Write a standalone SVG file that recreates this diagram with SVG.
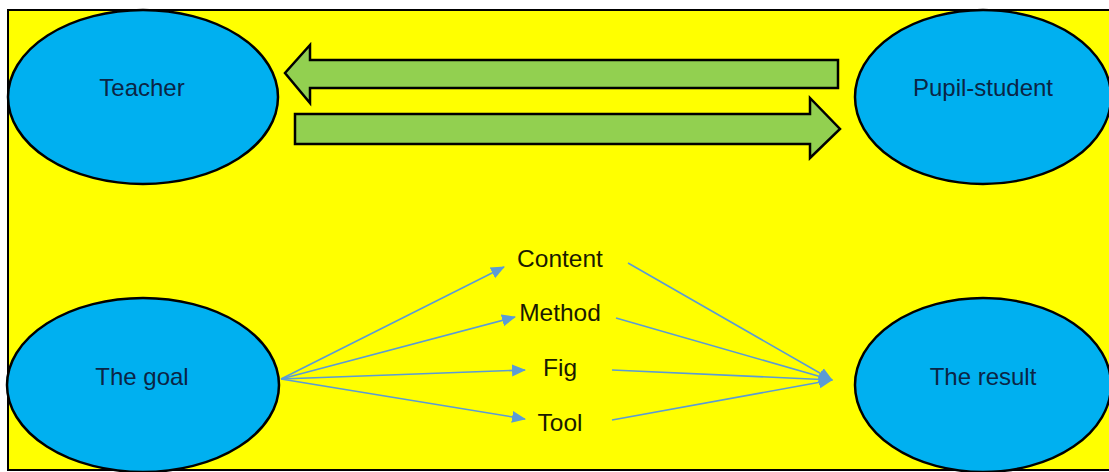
<svg xmlns="http://www.w3.org/2000/svg" width="1109" height="472" viewBox="0 0 1109 472">
<style>
.node{fill:#00B0F0;stroke:#000;stroke-width:2.5}
.lbl{font-family:"Liberation Sans",Arial,sans-serif;font-size:24px;fill:#0b2545;text-anchor:middle}
.mid{font-family:"Liberation Sans",Arial,sans-serif;font-size:24.5px;fill:#1a1a00;text-anchor:middle}
.big{fill:#92D050;stroke:#000;stroke-width:2.5;stroke-linejoin:miter}
.con{stroke:#5B9BD5;stroke-width:1.6;fill:none;marker-end:url(#ah)}
</style>
<defs>
<marker id="ah" markerUnits="userSpaceOnUse" markerWidth="14" markerHeight="14" viewBox="0 0 14 14" refX="13" refY="7" orient="auto">
<path d="M0,1 L14,7 L0,13 Z" fill="#5B9BD5"/>
</marker>
</defs>
<rect x="0" y="0" width="1109" height="472" fill="#fff"/>
<rect x="8" y="10" width="1110" height="460" fill="#FFFF00" stroke="#000" stroke-width="2"/>
<g id="big-arrows">
<path class="big" d="M838,60 L310,60 L310,45 L285,73 L310,103 L310,88 L838,88 Z"/>
<path class="big" d="M295,114 L810,114 L810,98 L840,129 L810,158 L810,144 L295,144 Z"/>
</g>
<g id="connectors">
<line class="con" x1="281" y1="379" x2="504" y2="267"/>
<line class="con" x1="281" y1="379" x2="515" y2="317"/>
<line class="con" x1="281" y1="379" x2="525" y2="370"/>
<line class="con" x1="281" y1="379" x2="525" y2="419"/>
<line class="con" x1="628" y1="263" x2="832" y2="380"/>
<line class="con" x1="616" y1="318" x2="832" y2="380"/>
<line class="con" x1="612" y1="370" x2="832" y2="380"/>
<line class="con" x1="612" y1="420" x2="832" y2="380"/>
</g>
<g id="teacher">
<ellipse class="node" cx="143" cy="97" rx="135" ry="87"/>
<text class="lbl" x="142" y="96">Teacher</text>
</g>
<g id="pupil">
<ellipse class="node" cx="983" cy="97" rx="128" ry="87"/>
<text class="lbl" x="983" y="96">Pupil-student</text>
</g>
<g id="goal">
<ellipse class="node" cx="143" cy="385" rx="136" ry="87"/>
<text class="lbl" x="142" y="385">The goal</text>
</g>
<g id="result">
<ellipse class="node" cx="983" cy="385" rx="128" ry="87"/>
<text class="lbl" x="983" y="385">The result</text>
</g>
<g id="content"><text class="mid" x="560" y="267">Content</text></g>
<g id="method"><text class="mid" x="560" y="321">Method</text></g>
<g id="fig"><text class="mid" x="560" y="376">Fig</text></g>
<g id="tool"><text class="mid" x="560" y="431">Tool</text></g>
</svg>
